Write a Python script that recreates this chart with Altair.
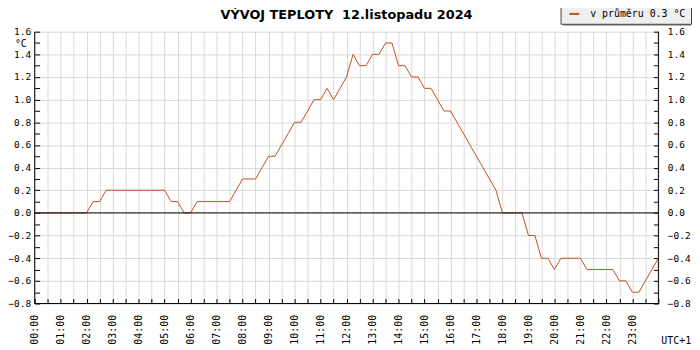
import json
import altair as alt
import pandas as pd

# ---------------- data ----------------
times = [
    "00:00", "00:15", "00:30", "00:45", "01:00", "01:15", "01:30", "01:45",
    "02:00", "02:15", "02:30", "02:45", "03:00", "03:15", "03:30", "03:45",
    "04:00", "04:15", "04:30", "04:45", "05:00", "05:15", "05:30", "05:45",
    "06:00", "06:15", "06:30", "06:45", "07:00", "07:15", "07:30", "07:45",
    "08:00", "08:15", "08:30", "08:45", "09:00", "09:15", "09:30", "09:45",
    "10:00", "10:15", "10:30", "10:45", "11:00", "11:15", "11:30", "11:45",
    "12:00", "12:15", "12:30", "12:45", "13:00", "13:15", "13:30", "13:45",
    "14:00", "14:15", "14:30", "14:45", "15:00", "15:15", "15:30", "15:45",
    "16:00", "16:15", "16:30", "16:45", "17:00", "17:15", "17:30", "17:45",
    "18:00", "18:15", "18:30", "18:45", "19:00", "19:15", "19:30", "19:45",
    "20:00", "20:15", "20:30", "20:45", "21:00", "21:15", "21:30", "21:45",
    "22:00", "22:15", "22:30", "22:45", "23:00", "23:15", "23:30", "23:45",
    "24:00",
]
temps = [
    0.0, 0.0, 0.0, 0.0, 0.0, 0.0, 0.0, 0.0,
    0.0, 0.1, 0.1, 0.2, 0.2, 0.2, 0.2, 0.2,
    0.2, 0.2, 0.2, 0.2, 0.2, 0.1, 0.1, 0.0,
    0.0, 0.1, 0.1, 0.1, 0.1, 0.1, 0.1, 0.2,
    0.3, 0.3, 0.3, 0.4, 0.5, 0.5, 0.6, 0.7,
    0.8, 0.8, 0.9, 1.0, 1.0, 1.1, 1.0, 1.1,
    1.2, 1.4, 1.3, 1.3, 1.4, 1.4, 1.5, 1.5,
    1.3, 1.3, 1.2, 1.2, 1.1, 1.1, 1.0, 0.9,
    0.9, 0.8, 0.7, 0.6, 0.5, 0.4, 0.3, 0.2,
    0.0, 0.0, 0.0, 0.0, -0.2, -0.2, -0.4, -0.4,
    -0.5, -0.4, -0.4, -0.4, -0.4, -0.5, -0.5, -0.5,
    -0.5, -0.5, -0.6, -0.6, -0.7, -0.7, -0.6, -0.5,
    -0.4,
]
series_label = "v průměru 0.3 °C"
title_text = "VÝVOJ TEPLOTY \u00a012.listopadu 2024"
unit_text = "°C"
tz_text = "UTC+1"

x_tick_hours = [
    0, 0.5, 1, 1.5, 2, 2.5, 3, 3.5, 4, 4.5, 5, 5.5, 6, 6.5, 7, 7.5,
    8, 8.5, 9, 9.5, 10, 10.5, 11, 11.5, 12, 12.5, 13, 13.5, 14, 14.5,
    15, 15.5, 16, 16.5, 17, 17.5, 18, 18.5, 19, 19.5, 20, 20.5, 21, 21.5,
    22, 22.5, 23, 23.5, 24,
]
x_labels = [
    "00:00", "01:00", "02:00", "03:00", "04:00", "05:00", "06:00", "07:00",
    "08:00", "09:00", "10:00", "11:00", "12:00", "13:00", "14:00", "15:00",
    "16:00", "17:00", "18:00", "19:00", "20:00", "21:00", "22:00", "23:00",
]
y_ticks = [
    -0.8, -0.7, -0.6, -0.5, -0.4, -0.3, -0.2, -0.1, 0.0, 0.1, 0.2, 0.3,
    0.4, 0.5, 0.6, 0.7, 0.8, 0.9, 1.0, 1.1, 1.2, 1.3, 1.4, 1.5, 1.6,
]

# ---------------- style ----------------
LINE_COLOR = "#c0501a"
GRID_COLOR = "#d9d9d9"
MONO = "DejaVu Sans Mono"
SANS = "DejaVu Sans"

df = pd.DataFrame({"time": times, "temp": temps})
df["hour"] = [int(t[:2]) + int(t[3:]) / 60 for t in times]
df["series"] = series_label

x_scale = alt.Scale(domain=[0, 24], nice=False, zero=False)
y_scale = alt.Scale(domain=[-0.8, 1.6], nice=False, zero=False)

x_label_expr = (
    "datum.value % 1 == 0 && datum.value < 24 ? "
    + json.dumps(x_labels)
    + "[datum.value] : ''"
)
even_test = "abs(round(datum.value * 10)) % 2 == 0"
y_label_expr = even_test + " ? format(datum.value, '.1f') : ''"

common_axis = dict(
    domain=False, title=None, labelFont=MONO,
    labelColor="black", tickColor="black", tickWidth=1, tickSize=5, offset=-5,
)

one = pd.DataFrame({"k": [0]})

line = alt.Chart(df).mark_line(strokeWidth=1, clip=False).encode(
    x=alt.X("hour:Q", scale=x_scale,
            axis=alt.Axis(orient="bottom", values=x_tick_hours, labelExpr=x_label_expr,
                          labelAngle=270, labelPadding=11, labelFontSize=10,
                          grid=False, **common_axis)),
    y=alt.Y("temp:Q", scale=y_scale,
            axis=alt.Axis(orient="left", values=y_ticks, labelExpr=y_label_expr,
                          labelPadding=4, labelFontSize=9.6, grid=False, **common_axis)),
    color=alt.Color("series:N",
                    scale=alt.Scale(domain=[series_label], range=[LINE_COLOR]),
                    legend=alt.Legend(
                        title=None, orient="none", legendX=532, legendY=-29,
                        fillColor="#efefef", strokeColor="#444444", padding=5,
                        symbolType="stroke", symbolSize=100, symbolStrokeWidth=2,
                        symbolOffset=3, labelOffset=10, labelFont=MONO,
                        labelFontSize=10, labelColor="black", labelLimit=300,
                        cornerRadius=0)),
)

# vertical grid carrier (top axis, grid only) + left frame line
left_frame = alt.Chart(one).mark_rule(color="black", strokeWidth=1).encode(
    x=alt.XDatum(0, type="quantitative", scale=x_scale,
                 axis=alt.Axis(orient="top", values=x_tick_hours, grid=True,
                               gridColor=GRID_COLOR, gridWidth=1, labels=False,
                               ticks=False, domain=False, title=None)),
)
right_frame = alt.Chart(one).mark_rule(color="black", strokeWidth=1).encode(
    x=alt.XDatum(24, type="quantitative", scale=x_scale, axis=None),
)
# bottom frame line carries right axis + horizontal grid
bottom_frame = alt.Chart(one).mark_rule(color="black", strokeWidth=1).encode(
    y=alt.YDatum(-0.8, type="quantitative", scale=y_scale,
                 axis=alt.Axis(orient="right", values=y_ticks, labelExpr=y_label_expr,
                               labelPadding=9, labelFontSize=9.6, grid=True,
                               gridColor=GRID_COLOR, gridWidth=1,
                               gridOpacity={"condition": {"test": even_test, "value": 1},
                                            "value": 0},
                               **common_axis)),
)
zero_line = alt.Chart(one).mark_rule(color="black", strokeWidth=1).encode(
    y=alt.YDatum(0, type="quantitative", scale=y_scale, axis=None),
)

shadow = alt.Chart(one).mark_rect(color="#9a9a9a").encode(
    x=alt.value(535), x2=alt.value(664), y=alt.value(-26), y2=alt.value(-6),
)

title = alt.Chart(pd.DataFrame({"t": [title_text]})).mark_text(
    font=SANS, fontSize=13, fontWeight="bold", color="black",
    align="center", baseline="alphabetic",
).encode(text="t:N", x=alt.value(315.5), y=alt.value(-13))

unit = alt.Chart(pd.DataFrame({"t": [unit_text]})).mark_text(
    font=MONO, fontSize=10, color="black", align="center", baseline="alphabetic",
).encode(text="t:N", x=alt.value(-14), y=alt.value(15))

tz = alt.Chart(pd.DataFrame({"t": [tz_text]})).mark_text(
    font=MONO, fontSize=10, color="black", align="left", baseline="middle",
).encode(text="t:N", x=alt.value(634), y=alt.value(313))

chart = alt.layer(
    left_frame, bottom_frame, line, right_frame, zero_line, shadow, title, unit, tz
).resolve_scale(x="independent", y="independent").resolve_axis(
    x="independent", y="independent"
).properties(
    width=631, height=275,
    autosize=alt.AutoSizeParams(type="none"),
    padding={"left": 27, "top": 22, "right": 34, "bottom": 42},
    background="white",
).configure_view(stroke=None)

chart.save("out.html", embed_options={"renderer": "svg", "actions": False})
